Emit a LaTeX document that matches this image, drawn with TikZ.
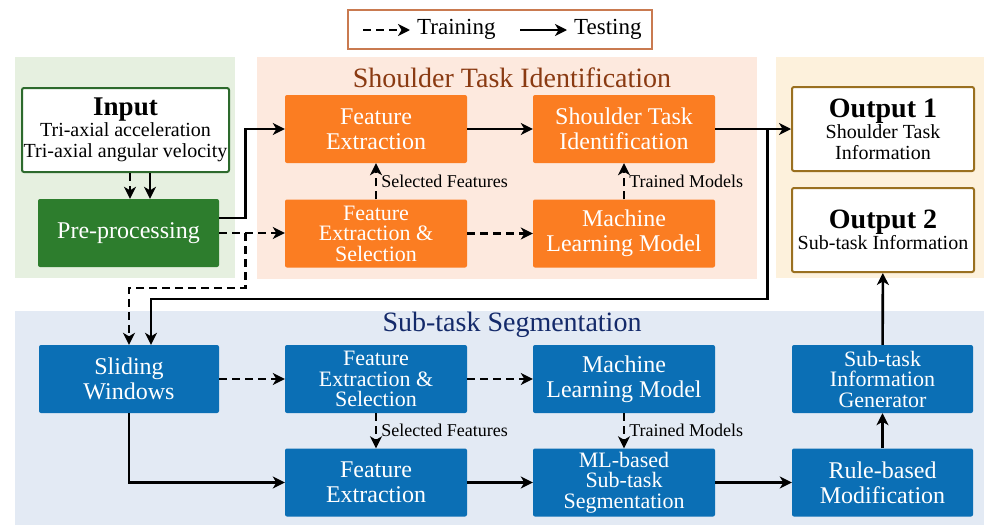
\documentclass[tikz,border=0pt]{standalone}
\usepackage{fontspec}
\setmainfont{Liberation Serif}
\usetikzlibrary{arrows.meta}
\definecolor{greenbg}{HTML}{E6F0E0}
\definecolor{greenbox}{HTML}{2D7D2D}
\definecolor{greenline}{HTML}{2D6A2D}
\definecolor{orangebg}{HTML}{FDE9DE}
\definecolor{orangebox}{HTML}{FB7D22}
\definecolor{creambg}{HTML}{FDF1DC}
\definecolor{outline}{HTML}{9A7020}
\definecolor{bluebg}{HTML}{E3EAF4}
\definecolor{bluebox}{HTML}{0B6FB5}
\definecolor{titlebrown}{HTML}{8A3A12}
\definecolor{titlenavy}{HTML}{142A6A}
\definecolor{legline}{HTML}{C97A50}
\tikzset{
  box/.style={rounded corners=2pt, minimum width=182pt, minimum height=68pt, inner sep=0pt,
    align=center, text=white, font=\fontsize{24}{25}\selectfont},
  obox/.style={box, fill=orangebox},
  bbox/.style={box, fill=bluebox},
  three/.style={font=\fontsize{22}{20.5}\selectfont},
  wbox/.style={rounded corners=2pt, fill=white, line width=2pt, minimum height=84pt, inner sep=0pt,
    align=center, font=\fontsize{20}{21}\selectfont},
  arr/.style={line width=2.6pt, -{Stealth[length=12pt,width=12pt,inset=3.5pt]}},
  dsh/.style={dash pattern=on 8pt off 5pt},
  lbl/.style={font=\fontsize{18}{20}\selectfont, inner sep=4pt},
  ttl/.style={font=\fontsize{28}{30}\selectfont}
}
\begin{document}
\begin{tikzpicture}[x=1pt,y=-1pt]
\useasboundingbox (0,0) rectangle (984,525);
\fill[white] (0,0) rectangle (984,525);
% backgrounds
\fill[greenbg] (15,57) rectangle (235,278);
\fill[orangebg] (257,57) rectangle (757,279);
\fill[creambg] (776,57) rectangle (984,278);
\fill[bluebg] (15,311) rectangle (984,525);
% titles
\node[ttl, text=titlebrown] (t1) at (512,78) {Shoulder Task Identification};
\node[ttl, text=titlenavy] (t2) at (512,325) {Sub-task Segmentation};
% legend
\node[draw=legline, line width=1.2pt, minimum width=304pt, minimum height=39pt] (leg) at (500,29.5) {};
\coordinate (la1) at (363,30);
\coordinate (la2) at (410,30);
\coordinate (lb1) at (520,30);
\coordinate (lb2) at (567,30);
\draw[arr,dsh] (la1) -- (la2);
\draw[arr] (lb1) -- (lb2);
\node[font=\fontsize{23}{24}\selectfont, anchor=west, inner sep=0pt] (ltr) at (417,29) {Training};
\node[font=\fontsize{23}{24}\selectfont, anchor=west, inner sep=0pt] (lte) at (574,29) {Testing};
% input / pre
\node[wbox, draw=greenline, minimum width=207pt] (input) at (125.5,130)
  {{\fontsize{27}{27}\selectfont\bfseries Input}\\Tri-axial acceleration\\Tri-axial angular velocity};
\node[box, fill=greenbox, minimum width=181pt] (pre) at (128.5,233) {Pre-processing};
% orange
\node[obox] (fe1) at (376,129) {Feature\\Extraction};
\node[obox] (sti) at (624,129) {Shoulder Task\\Identification};
\node[obox, three] (fes1) at (376,233.5) {Feature\\Extraction \&\\Selection};
\node[obox] (mlm1) at (624,233.5) {Machine\\Learning Model};
% outputs
\node[wbox, draw=outline, minimum width=182pt] (out1) at (883,129)
  {{\fontsize{28}{27}\selectfont\bfseries Output 1}\\Shoulder Task\\Information};
\node[wbox, draw=outline, minimum width=182pt] (out2) at (883,230)
  {{\fontsize{28}{30}\selectfont\bfseries Output 2}\\Sub-task Information};
% blue
\node[bbox, minimum width=180pt] (sw) at (129,379) {Sliding\\Windows};
\node[bbox, three] (fes2) at (376,379) {Feature\\Extraction \&\\Selection};
\node[bbox] (mlm2) at (624,379) {Machine\\Learning Model};
\node[bbox, three, minimum width=181pt] (sig) at (882.5,379) {Sub-task\\Information\\Generator};
\node[bbox] (fe2) at (376,482.5) {Feature\\Extraction};
\node[bbox, three] (mls) at (624,482.5) {ML-based\\Sub-task\\Segmentation};
\node[bbox, minimum width=181pt] (rbm) at (882.5,482.5) {Rule-based\\Modification};
% arrows top
\draw[arr,dsh] ([xshift=4.5pt]input.south) -- ([xshift=4.5pt]input.south |- pre.north);
\draw[arr] ([xshift=24.5pt]input.south) -- ([xshift=24.5pt]input.south |- pre.north);
\draw[arr] ([yshift=15pt]pre.east) -- ++(26,0) |- (fe1.west);
\draw[arr,dsh] (pre.east) -- (pre.east -| fes1.west);
\draw[arr,dsh] (pre.east) ++(26,0) -- ++(0,55) -| (sw.north);
\draw[arr] (fe1) -- (sti);
\draw[arr,dsh] (fes1) -- (mlm1);
\draw[arr,dsh] (fes1.north) -- (fe1.south) node[lbl, midway, right] {Selected Features};
\draw[arr,dsh] (mlm1.north) -- (sti.south) node[lbl, midway, right] {Trained Models};
\draw[arr] (sti.east) -- (sti.east -| out1.west);
\draw[arr] (sti.east) ++(52,0) -- ++(0,170) -| ([xshift=22pt]sw.north);
% arrows bottom
\draw[arr,dsh] (sw) -- (fes2);
\draw[arr,dsh] (fes2) -- (mlm2);
\draw[arr,dsh] (fes2.south) -- (fe2.north) node[lbl, midway, right] {Selected Features};
\draw[arr,dsh] (mlm2.south) -- (mls.north) node[lbl, midway, right] {Trained Models};
\draw[arr] (sw.south) |- (fe2.west);
\draw[arr] (fe2) -- (mls);
\draw[arr] (mls) -- (rbm);
\draw[arr] (rbm) -- (sig);
\draw[arr] (sig) -- (out2);
\end{tikzpicture}
\end{document}
